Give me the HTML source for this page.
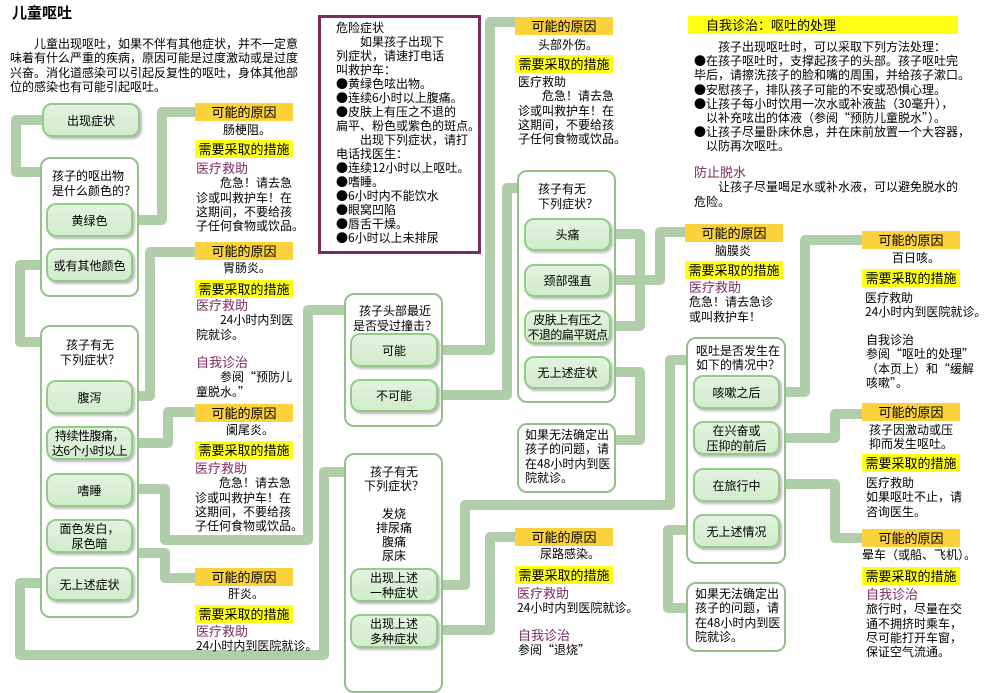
<!DOCTYPE html>
<html><head><meta charset="utf-8">
<style>
*{margin:0;padding:0;box-sizing:border-box}
body{width:997px;height:675px;background:#fff;position:relative;overflow:hidden;font-family:"Noto Sans CJK SC","Liberation Sans",sans-serif;font-size:12px;line-height:14px;color:#000}
div{white-space:nowrap}
.a{position:absolute}
.c{position:absolute;border:2px solid #92c188;border-radius:10px;background:#fff}
.b{position:absolute;border:2px solid #92cc88;border-radius:10px;background:linear-gradient(#e2f3df,#d2ebcd);box-shadow:2px 2px 2px #bbb;display:flex;align-items:center;justify-content:center;text-align:center;line-height:15px}
.o{position:absolute;background:#fcd23c;height:18px;text-align:center;line-height:18px;font-size:13px}
.y{position:absolute;background:#ffff14;height:18px;text-align:center;line-height:18px;font-size:13px}
.p{color:#7e2a5e;font-size:13px}
.t{position:absolute;line-height:14.3px}
svg{position:absolute;left:0;top:0}
</style></head><body>
<svg width="997" height="675"><g fill="none" stroke="#b0cea9" stroke-width="10" stroke-linejoin="round">
<polyline points="44,120 16,120 16,172 50,172"/>
<polyline points="134,220 162,220 162,112 196,112"/>
<polyline points="44,265 20,265 20,342 52,342"/>
<polyline points="134,396 150,396 150,252 196,252"/>
<polyline points="134,443 168,443 168,412 196,412"/>
<polyline points="134,489 165,489 165,540 308,540 308,310 346,310"/>
<polyline points="134,553 165,553 165,578 196,578"/>
<polyline points="44,583 20,583 20,655 324,655 324,472 346,472"/>
<polyline points="439,350 490,350 490,22 516,22"/>
<polyline points="439,395 507,395 507,188 520,188"/>
<polyline points="612,234 640,234 640,326 612,326"/>
<polyline points="612,280 660,280 660,232 686,232"/>
<polyline points="612,372 640,372 640,440 616,440"/>
<polyline points="439,585 465,585 465,505 670,505 670,360 690,360"/>
<polyline points="439,630 490,630 490,537 516,537"/>
<polyline points="782,392 805,392 805,240 862,240"/>
<polyline points="782,438 835,438 835,414 862,414"/>
<polyline points="782,484 835,484 835,538 862,538"/>
<polyline points="692,530 668,530 668,608 692,608"/>
</g></svg>

<div class="a" style="left:12px;top:4px;font-size:15px;font-weight:bold;line-height:18px">儿童呕吐</div>
<div class="t" style="left:10px;top:37px">　　儿童出现呕吐，如果不伴有其他症状，并不一定意<br>味着有什么严重的疾病，原因可能是过度激动或是过度<br>兴奋。消化道感染可以引起反复性的呕吐，身体其他部<br>位的感染也有可能引起呕吐。</div>

<div class="c" style="left:40px;top:157px;width:99px;height:140px"></div>
<div class="b" style="left:42px;top:103px;width:98px;height:34px">出现症状</div>
<div class="a" style="left:52px;top:168px;line-height:15px">孩子的呕出物<br>是什么颜色的？</div>
<div class="b" style="left:46px;top:203px;width:87px;height:34px">黄绿色</div>
<div class="b" style="left:46px;top:248px;width:87px;height:34px">或有其他颜色</div>

<div class="c" style="left:40px;top:325px;width:99px;height:293px"></div>
<div class="a" style="left:60px;top:337px;line-height:15px;text-align:center">孩子有无<br>下列症状？</div>
<div class="b" style="left:46px;top:380px;width:87px;height:34px">腹泻</div>
<div class="b" style="left:46px;top:426px;width:87px;height:34px;letter-spacing:-0.5px">持续性腹痛，<br>达6个小时以上</div>
<div class="b" style="left:46px;top:473px;width:87px;height:34px">嗜睡</div>
<div class="b" style="left:46px;top:519px;width:87px;height:34px">面色发白，<br>尿色暗</div>
<div class="b" style="left:46px;top:567px;width:87px;height:34px">无上述症状</div>

<div class="o" style="left:195px;top:103px;width:98px">可能的原因</div>
<div class="a" style="left:223px;top:123px">肠梗阻。</div>
<div class="y" style="left:195px;top:140px;width:98px">需要采取的措施</div>
<div class="t" style="left:196px;top:161px"><span class="p">医疗救助</span><br>　　危急！请去急<br>诊或叫救护车！在<br>这期间，不要给孩<br>子任何食物或饮品。</div>

<div class="o" style="left:195px;top:242px;width:98px">可能的原因</div>
<div class="a" style="left:223px;top:261px">胃肠炎。</div>
<div class="y" style="left:195px;top:280px;width:98px">需要采取的措施</div>
<div class="t" style="left:196px;top:298px"><span class="p">医疗救助</span><br>　　24小时内到医<br>院就诊。</div>
<div class="t" style="left:196px;top:355px"><span class="p">自我诊治</span><br>　　参阅“预防儿<br>童脱水。”</div>

<div class="o" style="left:195px;top:404px;width:98px">可能的原因</div>
<div class="a" style="left:226px;top:423px">阑尾炎。</div>
<div class="y" style="left:195px;top:441px;width:98px">需要采取的措施</div>
<div class="t" style="left:195px;top:461px"><span class="p">医疗救助</span><br>　　危急！请去急<br>诊或叫救护车！在<br>这期间，不要给孩<br>子任何食物或饮品。</div>

<div class="o" style="left:195px;top:568px;width:98px">可能的原因</div>
<div class="a" style="left:228px;top:587px">肝炎。</div>
<div class="y" style="left:195px;top:605px;width:98px">需要采取的措施</div>
<div class="t" style="left:196px;top:624px"><span class="p">医疗救助</span><br>24小时内到医院就诊。</div>

<div class="a" style="left:318px;top:15px;width:163px;height:239px;border:3px solid #7b2d5c"></div>
<div class="t" style="left:336px;top:21px;line-height:14px">危险症状<br>　　如果孩子出现下<br>列症状，请速打电话<br>叫救护车：<br>●黄绿色呟出物。<br>●连续6小时以上腹痛。<br>●皮肤上有压之不退的<br>扁平、粉色或紫色的斑点。<br>　　出现下列症状，请打<br>电话找医生：<br>●连续12小时以上呕吐。<br>●嗜睡。<br>●6小时内不能饮水<br>●眼窝凹陷<br>●唇舌干燥。<br>●6小时以上未排尿</div>

<div class="c" style="left:344px;top:293px;width:99px;height:134px"></div>
<div class="a" style="left:353px;top:303px;line-height:15px;text-align:center">孩子头部最近<br>是否受过撞击？</div>
<div class="b" style="left:350px;top:333px;width:88px;height:34px">可能</div>
<div class="b" style="left:350px;top:379px;width:88px;height:33px">不可能</div>

<div class="c" style="left:344px;top:453px;width:99px;height:240px"></div>
<div class="a" style="left:364px;top:465px;width:60px;line-height:14px;text-align:center">孩子有无<br>下列症状？<br><br>发烧<br>排尿痛<br>腹痛<br>尿床</div>
<div class="b" style="left:350px;top:568px;width:88px;height:34px">出现上述<br>一种症状</div>
<div class="b" style="left:350px;top:614px;width:88px;height:34px">出现上述<br>多种症状</div>

<div class="o" style="left:515px;top:17px;width:98px">可能的原因</div>
<div class="a" style="left:538px;top:38px">头部外伤。</div>
<div class="y" style="left:515px;top:55px;width:98px">需要采取的措施</div>
<div class="t" style="left:518px;top:75px">医疗救助<br>　　危急！请去急<br>诊或叫救护车！在<br>这期间，不要给孩<br>子任何食物或饮品。</div>

<div class="c" style="left:517px;top:170px;width:99px;height:233px"></div>
<div class="a" style="left:538px;top:181px;line-height:15px">孩子有无<br>下列症状？</div>
<div class="b" style="left:524px;top:218px;width:87px;height:33px">头痛</div>
<div class="b" style="left:524px;top:264px;width:87px;height:33px">颈部强直</div>
<div class="b" style="left:524px;top:310px;width:87px;height:34px;letter-spacing:-0.6px">皮肤上有压之<br>不退的扁平斑点</div>
<div class="b" style="left:524px;top:356px;width:87px;height:33px">无上述症状</div>
<div class="c" style="left:517px;top:423px;width:99px;height:70px"></div>
<div class="t" style="left:525px;top:428px">如果无法确定出<br>孩子的问题，请<br>在48小时内到医<br>院就诊。</div>

<div class="o" style="left:515px;top:528px;width:98px">可能的原因</div>
<div class="a" style="left:540px;top:547px">尿路感染。</div>
<div class="y" style="left:515px;top:566px;width:98px">需要采取的措施</div>
<div class="t" style="left:517px;top:586px"><span class="p">医疗救助</span><br>24小时内到医院就诊。</div>
<div class="t" style="left:518px;top:628px"><span class="p">自我诊治</span><br>参阅“退烧”</div>

<div class="y" style="left:688px;top:16px;width:270px;text-align:left;padding-left:18px">自我诊治：呕吐的处理</div>
<div class="t" style="left:694px;top:40px;line-height:14.2px">　　孩子出现呕吐时，可以采取下列方法处理：<br>●在孩子呕吐时，支撑起孩子的头部。孩子呕吐完<br>毕后，请擦洗孩子的脸和嘴的周围，并给孩子漱口。<br>●安慰孩子，排队孩子可能的不安或恐惧心理。<br>●让孩子每小时饮用一次水或补液盐（30毫升），<br>　以补充呟出的体液（参阅“预防儿童脱水”）。<br>●让孩子尽量卧床休息，并在床前放置一个大容器，<br>　以防再次呕吐。</div>
<div class="t" style="left:694px;top:165px"><span class="p">防止脱水</span><br>　　让孩子尽量喝足水或补水液，可以避免脱水的<br>危险。</div>

<div class="o" style="left:685px;top:224px;width:98px">可能的原因</div>
<div class="a" style="left:715px;top:244px">脑膜炎</div>
<div class="y" style="left:685px;top:261px;width:98px">需要采取的措施</div>
<div class="t" style="left:689px;top:280px"><span class="p">医疗救助</span><br>危急！请去急诊<br>或叫救护车！</div>

<div class="c" style="left:686px;top:337px;width:100px;height:227px"></div>
<div class="a" style="left:696px;top:344px;line-height:14px">呕吐是否发生在<br>如下的情况中？</div>
<div class="b" style="left:693px;top:375px;width:87px;height:34px">咳嗽之后</div>
<div class="b" style="left:693px;top:421px;width:87px;height:34px">在兴奋或<br>压抑的前后</div>
<div class="b" style="left:693px;top:468px;width:87px;height:34px">在旅行中</div>
<div class="b" style="left:693px;top:514px;width:87px;height:34px">无上述情况</div>
<div class="c" style="left:686px;top:582px;width:100px;height:70px"></div>
<div class="t" style="left:695px;top:587px">如果无法确定出<br>孩子的问题，请<br>在48小时内到医<br>院就诊。</div>

<div class="o" style="left:862px;top:231px;width:98px">可能的原因</div>
<div class="a" style="left:892px;top:251px">百日咳。</div>
<div class="y" style="left:862px;top:269px;width:98px">需要采取的措施</div>
<div class="t" style="left:865px;top:291px">医疗救助<br>24小时内到医院就诊。</div>
<div class="t" style="left:866px;top:333px">自我诊治<br>参阅“呕吐的处理”<br>（本页上）和“缓解<br>咳嗽”。</div>

<div class="o" style="left:862px;top:403px;width:98px">可能的原因</div>
<div class="t" style="left:869px;top:423px">孩子因激动或压<br>抑而发生呕吐。</div>
<div class="y" style="left:862px;top:454px;width:98px">需要采取的措施</div>
<div class="t" style="left:866px;top:476px">医疗救助<br>如果呕吐不止，请<br>咨询医生。</div>

<div class="o" style="left:862px;top:529px;width:98px">可能的原因</div>
<div class="a" style="left:862px;top:548px">晕车（或船、飞机）。</div>
<div class="y" style="left:862px;top:567px;width:98px">需要采取的措施</div>
<div class="t" style="left:866px;top:587px"><span class="p">自我诊治</span><br>旅行时，尽量在交<br>通不拥挤时乘车，<br>尽可能打开车窗，<br>保证空气流通。</div>
</body></html>
